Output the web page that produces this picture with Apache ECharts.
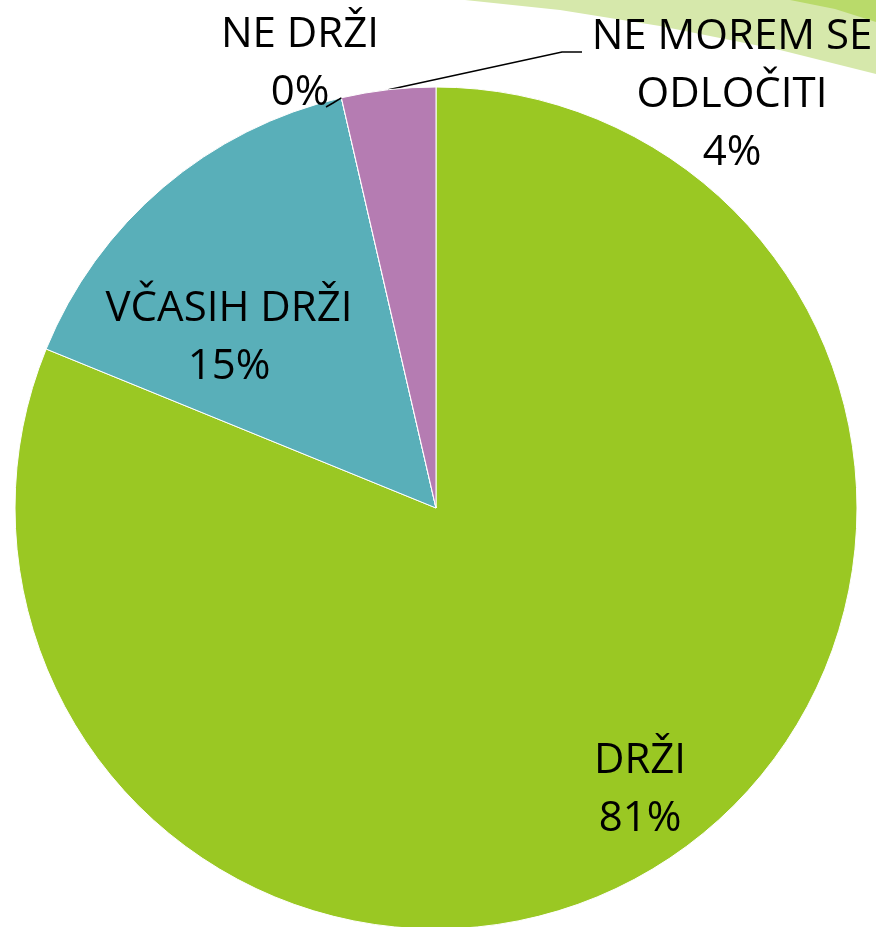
<!DOCTYPE html>
<html>
<head>
<meta charset="utf-8">
<script src="https://cdn.jsdelivr.net/npm/echarts@6/dist/echarts.min.js"></script>
<style>
  html, body { margin: 0; padding: 0; background: #fff; }
  #chart { width: 876px; height: 927px; }
</style>
</head>
<body>
<div id="chart"></div>
<script>
// podatki (odstotki)
var categories = ["DRŽI", "VČASIH DRŽI", "NE DRŽI", "NE MOREM SE\nODLOČITI"];
var values = [81, 15.2, 0, 3.6];
var colors = ["#9ac823", "#59afb9", "#7f9bc7", "#b57cb2"];

var center = [436, 508];
var radius = 421;

// kje stojijo napisi (središče bloka)
var labelPos = [
  [640, 790],
  [229, 338],
  [300, 64],
  [732, 95]
];
// konec črte do napisa (samo za majhna kosa)
var lineEnd = [null, null, [[333, 103], [326, 107]], [[562, 52], [582, 52]]];

// točka na robu pite pri kotu (stopinje, v smeri urinega kazalca od vrha)
function rimPoint(deg) {
  var a = deg * Math.PI / 180;
  return [center[0] + radius * Math.sin(a), center[1] - radius * Math.cos(a)];
}
var total = values.reduce(function (s, v) { return s + v; }, 0);
function midAngle(i) {
  var before = 0;
  for (var k = 0; k < i; k++) before += values[k];
  return (before + values[i] / 2) / total * 360;
}
function leaderPoints(i) {
  return [rimPoint(midAngle(i))].concat(lineEnd[i]);
}

var chart = echarts.init(document.getElementById("chart"));

var option = {
  backgroundColor: "#fff",
  animation: false,
  graphic: [
    {
      type: "polygon",
      z: -10,
      shape: {
        points: [[465, 0], [876, 0], [876, 74], [780, 50], [660, 26], [560, 10]]
      },
      style: { fill: "#d6e8ab" }
    },
    {
      type: "polygon",
      z: -9,
      shape: {
        points: [[790, 0], [876, 0], [876, 22], [835, 9]]
      },
      style: { fill: "#b9da6a" }
    },
    {
      // črta za "NE DRŽI" (kos z vrednostjo 0 nima svoje)
      type: "polyline",
      z: 100,
      shape: { points: leaderPoints(2) },
      style: { stroke: "#000", lineWidth: 1.5, fill: null }
    }
  ],
  series: [
    {
      type: "pie",
      center: center,
      radius: radius,
      startAngle: 90,
      clockwise: true,
      avoidLabelOverlap: false,
      itemStyle: {
        borderColor: "#ffffff",
        borderWidth: 1
      },
      label: {
        show: true,
        position: "outside",
        fontFamily: "Open Sans",
        fontSize: 42,
        lineHeight: 58,
        color: "#000",
        align: "center",
        overflow: "none",
        formatter: function (p) {
          return p.name + "\n" + Math.round(p.percent) + "%";
        }
      },
      labelLine: {
        show: true,
        length: 10,
        length2: 18,
        lineStyle: { color: "#000", width: 1.5 }
      },
      labelLayout: function (params) {
        var i = params.dataIndex;
        var p = labelPos[i];
        var out = {
          x: p[0],
          y: p[1],
          align: "center",
          verticalAlign: "middle"
        };
        if (i === 3) {
          out.labelLinePoints = leaderPoints(i);
        }
        return out;
      },
      data: categories.map(function (c, i) {
        var inside = i < 2;
        return {
          name: c,
          value: values[i],
          itemStyle: { color: colors[i] },
          label: { position: inside ? "inside" : "outside" },
          labelLine: { show: i === 3 }
        };
      })
    }
  ]
};

chart.setOption(option);
window.addEventListener("resize", function () {
  chart.resize();
});
</script>
</body>
</html>
